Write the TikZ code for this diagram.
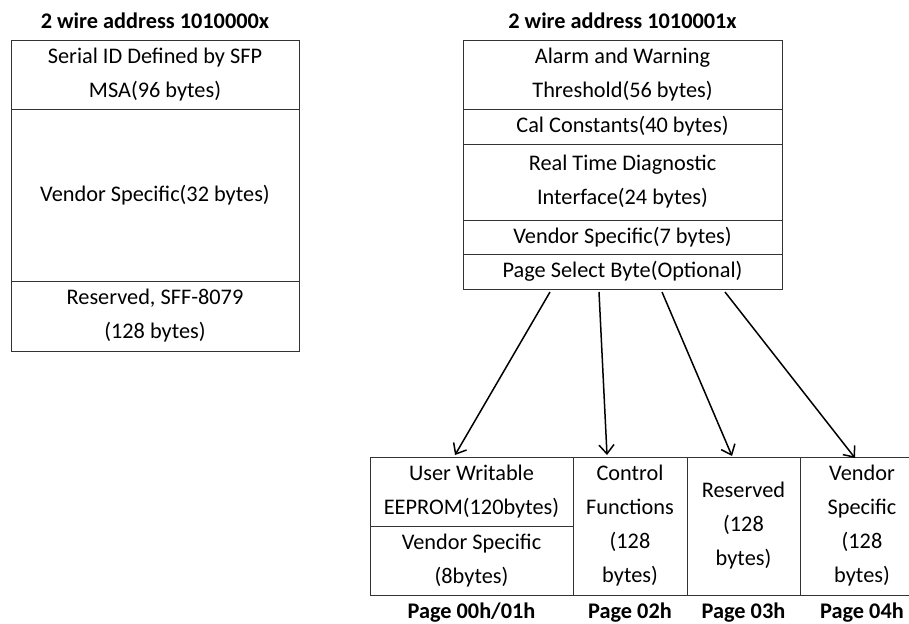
\documentclass[tikz,border=0pt]{standalone}
\usepackage{fontspec}
\setmainfont{Carlito}
\usetikzlibrary{arrows.meta}
\begin{document}
\begin{tikzpicture}[x=1pt,y=-1pt,
  cell/.style={draw=black!80,line width=0.9pt,inner sep=0pt,align=center,
    font=\fontsize{22.3}{34}\selectfont,text=black},
  ttl/.style={font=\fontsize{22.3}{26}\selectfont\bfseries,inner sep=0pt},
  arr/.style={line width=1.5pt,-{Straight Barb[length=9pt,width=15pt,line width=1.5pt]}}]
\useasboundingbox (0,0) rectangle (909,623);
\clip (0,0) rectangle (909,623);
% left block
\node[ttl] (t1) at (155,21) {2 wire address 1010000x};
\node[cell,minimum width=288,minimum height=69] (L1) at (155,74.5) {Serial ID Defined by SFP\\MSA(96 bytes)};
\node[cell,minimum width=288,minimum height=172] (L2) at (155,195) {Vendor Specific(32 bytes)};
\node[cell,minimum width=288,minimum height=70] (L3) at (155,316) {Reserved, SFF-8079\\(128 bytes)};
% right block
\node[ttl] (t2) at (622.5,21) {2 wire address 1010001x};
\node[cell,minimum width=319,minimum height=69] (R1) at (622.5,74.5) {Alarm and Warning\\Threshold(56 bytes)};
\node[cell,minimum width=319,minimum height=35] (R2) at (622.5,126.5) {Cal Constants(40 bytes)};
\node[cell,minimum width=319,minimum height=76] (R3) at (622.5,182) {Real Time Diagnostic\\Interface(24 bytes)};
\node[cell,minimum width=319,minimum height=34] (R4) at (622.5,237) {Vendor Specific(7 bytes)};
\node[cell,minimum width=319,minimum height=35] (R5) at (622.5,271.5) {Page Select Byte(Optional)};
% pages
\node[cell,minimum width=203,minimum height=69] (B1a) at (471.5,491.5) {User Writable\\EEPROM(120bytes)};
\node[cell,minimum width=203,minimum height=69] (B1b) at (471.5,560.5) {Vendor Specific\\(8bytes)};
\node[cell,minimum width=114,minimum height=138] (B2) at (630,526) {Control\\Functions\\(128\\bytes)};
\node[cell,minimum width=113,minimum height=138] (B3) at (743.5,526) {Reserved\\(128\\bytes)};
\node[cell,minimum width=124,minimum height=138] (B4) at (862,526) {Vendor\\Specific\\(128\\bytes)};
\node[ttl] (p1) at (471.5,613) {Page 00h/01h};
\node[ttl] (p2) at (630,613) {Page 02h};
\node[ttl] (p3) at (743.5,613) {Page 03h};
\node[ttl] (p4) at (862,613) {Page 04h};
% arrows
\coordinate (s1) at (550,292);
\coordinate (s2) at (599,292);
\coordinate (s3) at (662,292);
\coordinate (s4) at (725,292);
\coordinate (e1) at (455,455);
\coordinate (e2) at (607,455);
\coordinate (e3) at (732,456);
\coordinate (e4) at (855,458);
\draw[arr] (s1) -- (e1);
\draw[arr] (s2) -- (e2);
\draw[arr] (s3) -- (e3);
\draw[arr] (s4) -- (e4);
\end{tikzpicture}
\end{document}
